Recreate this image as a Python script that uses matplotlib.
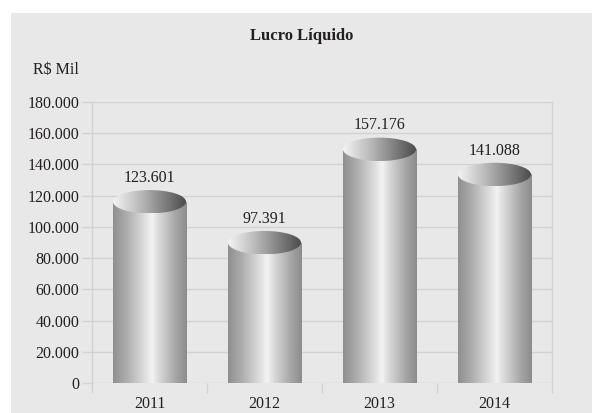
import numpy as np
import matplotlib
matplotlib.use('Agg')
from matplotlib import pyplot as plt
from matplotlib.patches import Rectangle, Ellipse
from matplotlib.colors import LinearSegmentedColormap

# data
years = ['2011', '2012', '2013', '2014']
lucro = [123601, 97391, 157176, 141088]
y_ticks = [0, 20000, 40000, 60000, 80000, 100000, 120000, 140000, 160000, 180000]


def fmt_br(v):
    return f'{v:,}'.replace(',', '.')


plt.rcParams['font.family'] = ['Liberation Serif', 'DejaVu Serif']
text_color = '#231f20'
grid_color = '#d2d2d2'
panel_color = '#e8e8e8'

fig = plt.figure(figsize=(5.92, 4.13), dpi=100)
fig.patch.set_facecolor('white')
fig.patches.append(Rectangle((11 / 592, 0), 1 - 11 / 592, 1 - 13 / 413,
                             transform=fig.transFigure, facecolor=panel_color,
                             edgecolor='none', zorder=-10))

ax = fig.add_axes([92 / 592, 30 / 413, 460 / 592, 281 / 413])
ax.set_facecolor(panel_color)

# cylinder shading
body_cmap = LinearSegmentedColormap.from_list('body', [
    (0.0, '#8f8f8f'), (0.18, '#acacac'), (0.42, '#dcdcdc'), (0.53, '#f3f3f3'),
    (0.62, '#dadada'), (0.85, '#a6a6a6'), (1.0, '#8c8c8c')])
top_cmap = LinearSegmentedColormap.from_list('top', [
    (0.0, '#f4f4f4'), (0.35, '#bdbdbd'), (0.75, '#767676'), (1.0, '#4a4a4a')])
grad = np.linspace(0, 1, 256).reshape(1, -1)

bar_w = 0.635
ell_h = 15000

for i, v in enumerate(lucro):
    x0, x1 = i - bar_w / 2, i + bar_w / 2
    cy = v - ell_h / 2
    body = Rectangle((x0, 0), bar_w, cy, transform=ax.transData,
                     facecolor='none', edgecolor='none')
    ax.add_patch(body)
    im = ax.imshow(grad, extent=[x0, x1, 0, cy], aspect='auto',
                   cmap=body_cmap, zorder=2, interpolation='bilinear')
    im.set_clip_path(body)

    top = Ellipse((i, cy), bar_w, ell_h, transform=ax.transData,
                  facecolor='none', edgecolor='none')
    ax.add_patch(top)
    im3 = ax.imshow(grad, extent=[x0, x1, cy - ell_h / 2, cy + ell_h / 2],
                    aspect='auto', cmap=top_cmap, zorder=3,
                    interpolation='bilinear')
    im3.set_clip_path(top)

    ax.annotate(fmt_br(v), (i, v), xytext=(0, 3), textcoords='offset points',
                ha='center', va='bottom', fontsize=11.5, color=text_color)

ax.set_xlim(-0.5, 3.5)
ax.set_ylim(0, 180000)

ax.set_yticks(y_ticks)
ax.set_yticklabels([fmt_br(t) for t in y_ticks])
ax.set_xticks(range(len(years)))
ax.set_xticklabels(years)
ax.set_xticks([-0.5, 0.5, 1.5, 2.5, 3.5], minor=True)

ax.tick_params(axis='y', length=7, width=1, color=grid_color, pad=2,
               labelsize=11.5, labelcolor=text_color)
ax.tick_params(axis='x', which='major', length=0, pad=9,
               labelsize=11.5, labelcolor=text_color)
ax.tick_params(axis='x', which='minor', length=7, width=1, color=grid_color)

ax.grid(axis='y', color=grid_color, linewidth=1)
ax.set_axisbelow(True)
for side in ['top', 'bottom']:
    ax.spines[side].set_visible(False)
for side in ['left', 'right']:
    ax.spines[side].set_color(grid_color)
    ax.spines[side].set_linewidth(1)

fig.text(302 / 592, 1 - 36 / 413, 'Lucro Líquido', ha='center', va='center',
         fontsize=12, fontweight='bold', color=text_color)
fig.text(79 / 592, 1 - 70 / 413, 'R$ Mil', ha='right', va='center',
         fontsize=11.5, color=text_color)

fig.savefig('out.png', dpi=100, facecolor=fig.get_facecolor())
